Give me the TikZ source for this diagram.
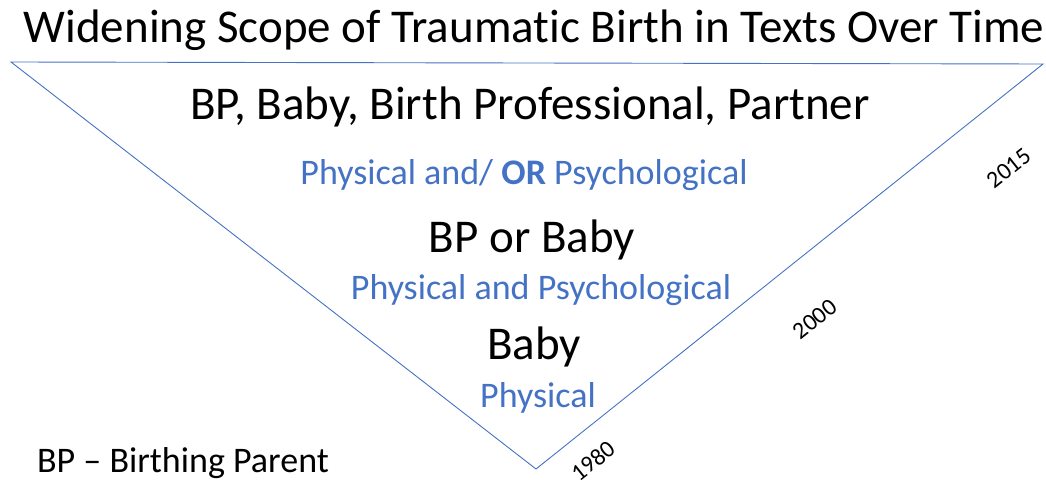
\documentclass[tikz,border=0pt]{standalone}
\usepackage{fontspec}
\setmainfont[Ligatures=NoCommon,RawFeature={-liga;-clig;-calt;-dlig}]{Carlito}
\definecolor{tblue}{HTML}{4472C4}
\begin{document}
\begin{tikzpicture}[x=1pt,y=-1pt,
  big/.style={font=\fontsize{47}{50}\selectfont, text=black, inner sep=0pt},
  blu/.style={font=\fontsize{36}{40}\selectfont, text=tblue, inner sep=0pt},
  yr/.style={font=\fontsize{24}{26}\selectfont, rotate=38.6, inner sep=0pt},
  edge/.style={draw=tblue, line width=0.9pt}]
\useasboundingbox (0,0) rectangle (1046,486);
\coordinate (tl) at (11,62);
\coordinate (tr) at (1043,64);
\coordinate (bt) at (536,469);
\draw[edge] (tl) -- (tr) -- (bt) -- cycle;
\node[font=\fontsize{47}{50}\selectfont, inner sep=0pt] (title) at (534,30) {Widening Scope of Traumatic Birth in Texts Over Time};
\node[big] (l1) at (530,107) {BP, Baby, Birth Professional, Partner};
\node[blu] (l2) at (524,175) {Physical and/ \textbf{OR} Psychological};
\node[big] (l3) at (532,240) {BP or Baby};
\node[blu] (l4) at (541,290) {Physical and Psychological};
\node[big] (l5) at (534,347) {Baby};
\node[blu] (l6) at (538,398) {Physical};
\node[font=\fontsize{36}{40}\selectfont, inner sep=0pt] (bp) at (183,463) {BP – Birthing Parent};
\node[yr] (y1) at (1009,168) {2015};
\node[yr] (y2) at (815,319) {2000};
\node[yr] (y3) at (593,461) {1980};
\end{tikzpicture}
\end{document}
